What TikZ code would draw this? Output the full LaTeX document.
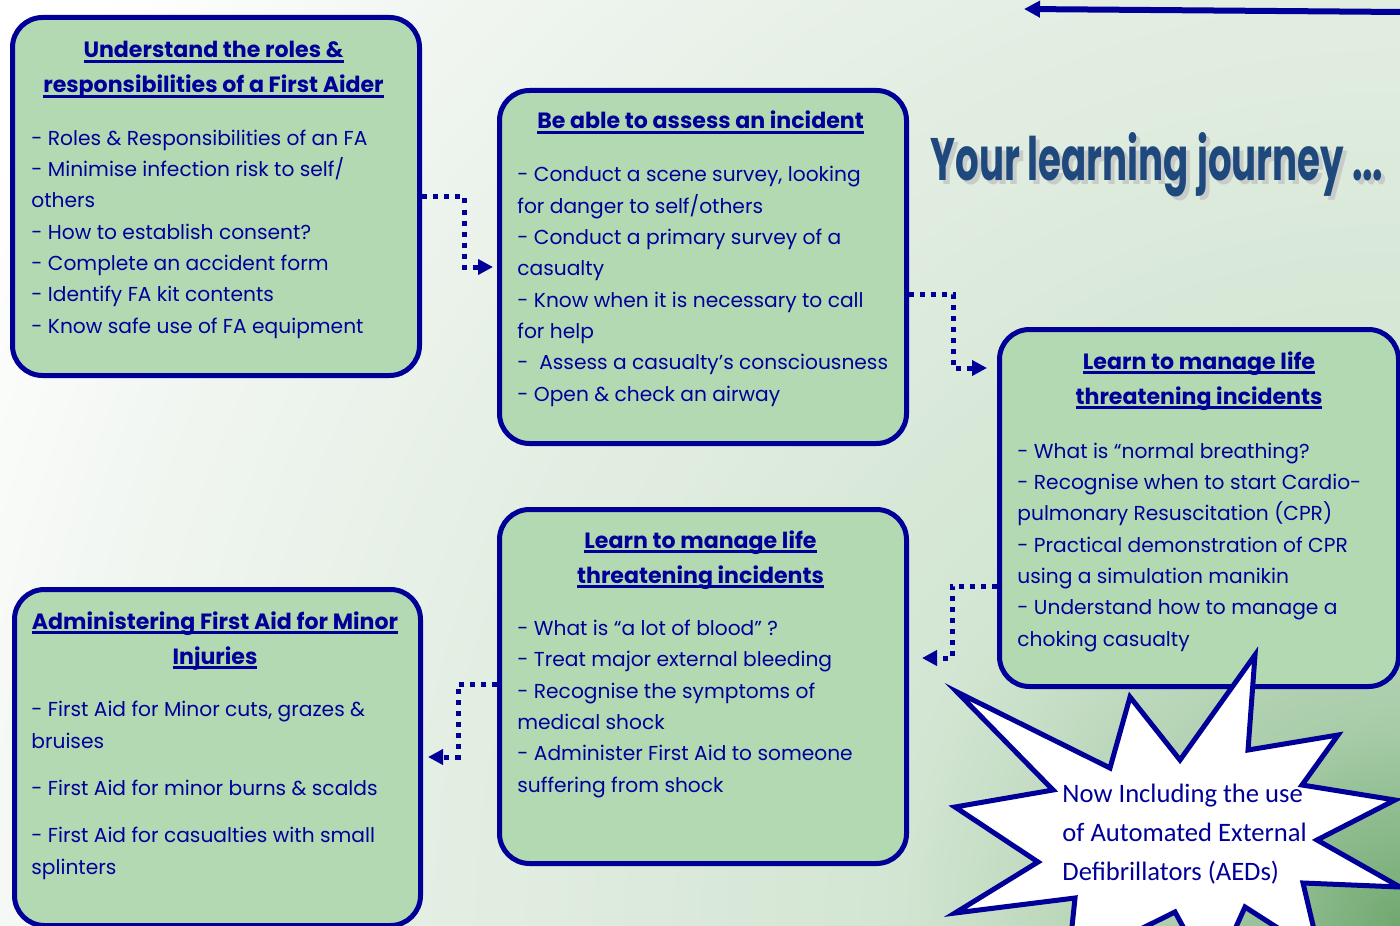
\documentclass[tikz,border=0pt]{standalone}
\usepackage{fontspec}
\usepackage{graphicx}
\usetikzlibrary{arrows.meta,calc}
\newfontfamily\calib{Carlito}
\newfontfamily\pop{Poppins}
\newcommand\myul[1]{\setbox0=\hbox{#1}\rlap{\rule[-2.4pt]{\wd0}{1.3pt}}\box0}
\newlength\rwa
\newlength\rwb
\definecolor{fgblue}{RGB}{0,0,153}
\definecolor{boxgreen}{RGB}{179,217,179}
\definecolor{titleblue}{RGB}{31,73,125}
\definecolor{shadowgray}{RGB}{200,204,200}
\definecolor{bgA}{RGB}{112,168,112}
\definecolor{bgB}{RGB}{168,204,168}
\definecolor{bgC}{RGB}{210,229,210}
\definecolor{bgD}{RGB}{225,237,225}
\definecolor{bgE}{RGB}{240,245,240}
\definecolor{bgF}{RGB}{250,252,250}
\pgfdeclareradialshading{bgshade}{\pgfpoint{0bp}{0bp}}{color(0bp)=(bgA); color(2.86bp)=(bgB); color(7.14bp)=(bgC); color(12.86bp)=(bgD); color(18.57bp)=(bgE); color(21.43bp)=(bgF); color(22.86bp)=(white); color(50bp)=(white)}
\tikzset{
  box/.style={draw=fgblue, fill=boxgreen, line width=2.5pt, rounded corners=15pt, inner sep=0pt, anchor=north west},
  ttl/.style={anchor=base, align=center, inner sep=0pt, text=fgblue, font=\pop\bfseries\fontsize{\tsz}{17.5}\selectfont},
  body/.style={anchor=base west, align=left, inner sep=0pt, text=fgblue, font=\pop\fontsize{\bsz}{15.65}\selectfont},
  conn/.style={draw=fgblue, line width=2.5pt, dash pattern=on 2.5pt off 3pt, -{Triangle[length=7.5pt,width=7.5pt]}},
}
\begin{document}
\settowidth\rwa{\pop\fontsize{10}{12}\selectfont - Roles \& Responsibilities of an FA}%
\settowidth\rwb{\pop\bfseries\fontsize{10}{12}\selectfont Understand the roles \&}%
\pgfmathsetmacro\bsz{10*168/\rwa}%
\pgfmathsetmacro\tsz{10*130/\rwb}%
\begin{tikzpicture}[x=0.5pt,y=-0.5pt]
\useasboundingbox (0,0) rectangle (1400,925);
\clip (0,0) rectangle (1400,925);
\shade[shading=bgshade] (-350,-825) rectangle (3150,2675);

% top arrow
\coordinate (ta) at (1402,12);
\coordinate (tb) at (1024,9);
\draw[fgblue, line width=3pt, -{Triangle[length=8pt,width=8pt]}] (ta) -- (tb);

% heading
\node[anchor=base west, inner sep=0pt, text=shadowgray] (heads) at (934,185) {\resizebox{226.5pt}{24pt}{\pop\bfseries Your learning journey ...}};
\node[anchor=base west, inner sep=0pt, text=titleblue] (head) at (930,181) {\resizebox{226.5pt}{24pt}{\pop\bfseries Your learning journey ...}};

% boxes
\node[box, minimum width=203.5pt, minimum height=179pt] (b1) at (10,15) {};
\node[box, minimum width=203.5pt, minimum height=176.5pt] (b2) at (497,88) {};
\node[box, minimum width=199.5pt, minimum height=178.5pt] (b3) at (997,327) {};
\node[box, minimum width=203.5pt, minimum height=177pt] (b4) at (497,507) {};
\node[box, minimum width=203pt, minimum height=168pt] (b5) at (12,587) {};

% box 1 (anchors are the baseline of the last line)
\node[ttl] (t1) at (213.5,93) {\myul{Understand the roles \&}\\\myul{responsibilities of a First Aider}};
\node[body] (x1) at (31,333) {- Roles \& Responsibilities of an FA\\- Minimise infection risk to self/\\others\\- How to establish consent?\\- Complete an accident form\\- Identify FA kit contents\\- Know safe use of FA equipment};

% box 2
\node[ttl] (t2) at (700.5,129) {\myul{Be able to assess an incident}};
\node[body] (x2) at (517,401) {- Conduct a scene survey, looking\\for danger to self/others\\- Conduct a primary survey of a\\casualty\\- Know when it is necessary to call\\for help\\- \ Assess a casualty’s consciousness\\- Open \& check an airway};

% box 3
\node[ttl] (t3) at (1199,404) {\myul{Learn to manage life}\\\myul{threatening incidents}};
\node[body] (x3) at (1017,646) {- What is “normal breathing?\\- Recognise when to start Cardio-\\pulmonary Resuscitation (CPR)\\- Practical demonstration of CPR\\using a simulation manikin\\- Understand how to manage a\\choking casualty};

% box 4
\node[ttl] (t4) at (700.5,583) {\myul{Learn to manage life}\\\myul{threatening incidents}};
\node[body] (x4) at (517,792) {- What is “a lot of blood” ?\\- Treat major external bleeding\\- Recognise the symptoms of\\medical shock\\- Administer First Aid to someone\\suffering from shock};

% box 5
\node[ttl] (t5) at (215,664) {\myul{Administering First Aid for Minor}\\\myul{Injuries}};
\node[body] (x5) at (31,874) {- First Aid for Minor cuts, grazes \&\\bruises\\[8pt]- First Aid for minor burns \& scalds\\[8pt]- First Aid for casualties with small\\splinters};

% connectors
\draw[conn, shorten >=2pt] (b1.east) -- ++(42,0) |- (b2.west);
\draw[conn, shorten >=5pt] ($(b2.north east)+(0,206)$) -- ++(44,0) |- ($(b3.north west)+(0,41)$);
\draw[conn, shorten >=6.5pt] ($(b3.north west)+(0,259)$) -- ++(-45,0) |- ($(b4.north east)+(0,151)$);
\draw[conn, shorten >=2.5pt] ($(b4.north west)+(0,177)$) -- ++(-39,0) |- ($(b5.north east)+(0,170)$);

% starburst
\draw[fgblue, fill=white, line width=2.5pt, line join=miter]
  (1255,655) -- (1248,750) -- (1338,735) -- (1302,785) -- (1395,800) -- (1317,840)
  -- (1400,887) -- (1303,883) -- (1320,955) -- (1245,907) -- (1212,980) -- (1175,912)
  -- (1068,965) -- (1075,898) -- (955,913) -- (1038,862) -- (955,807) -- (1053,790)
  -- (957,692) -- (1110,768) -- (1130,697) -- (1180,760) -- cycle;
\node[anchor=base west, align=left, inner sep=0pt, text=fgblue, font=\calib\fontsize{13.3}{19.5}\selectfont] (aed) at (1062,880) {Now Including the use\\of Automated External\\Defibrillators (AEDs)};
\end{tikzpicture}
\end{document}
